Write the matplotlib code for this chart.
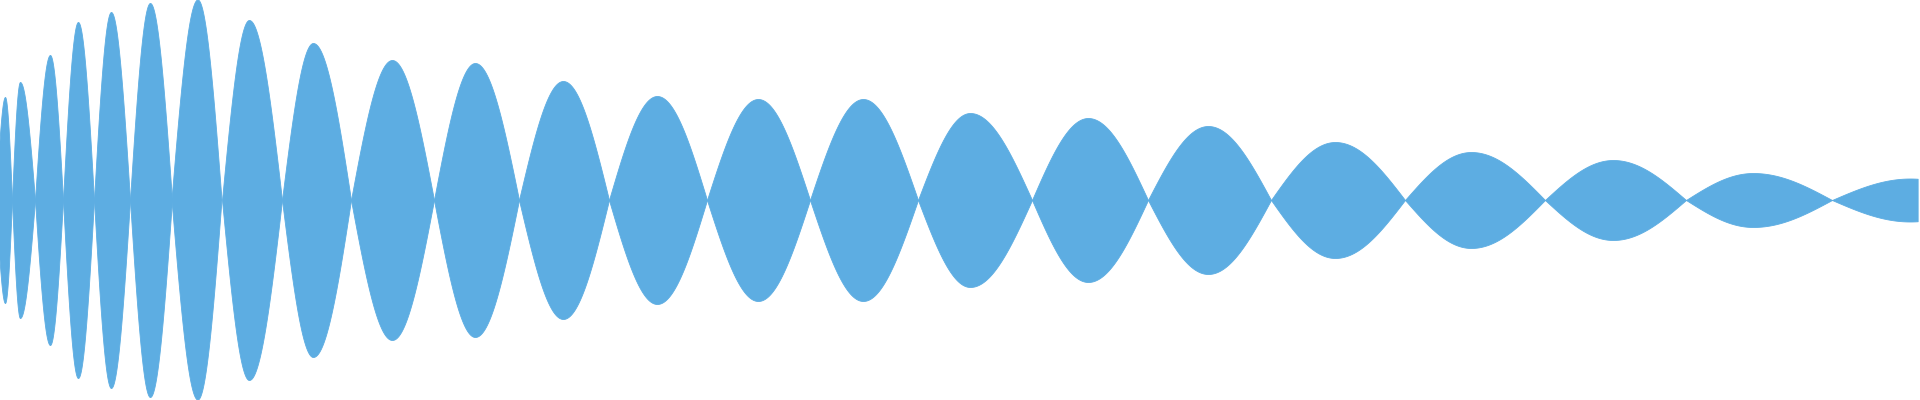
import numpy as np
import matplotlib
matplotlib.use("Agg")
import matplotlib.pyplot as plt

# zero crossings of the envelope (one more than lobes)
crossings = [-4, 12, 35, 63, 94, 130, 172, 222, 282, 351, 434, 519, 609,
             707, 810, 918, 1032, 1148, 1271, 1405, 1545, 1686, 1832, 1990]
# where each lobe peaks and how high it gets
peak_x = [5, 20, 50, 78, 111, 150, 198, 249, 313, 392, 475, 563, 657,
          758, 863, 970, 1088, 1208, 1335, 1471, 1613, 1753, 1910]
peak_amp = [103, 118, 145, 178, 188, 197, 200, 180, 157, 140, 137, 119, 104,
            101, 101, 87, 82, 74, 58, 48, 40, 27, 21.5]
x_end = 1918

color = "#5DADE2"

fig = plt.figure(figsize=(19.2, 4), dpi=100)
ax = fig.add_axes([0, 0, 1, 1])

for i in range(len(peak_amp)):
    a, b = crossings[i], crossings[i + 1]
    p, amp = peak_x[i], peak_amp[i]
    # rising half and falling half of the lobe
    xl = np.linspace(a, p, 200)
    xr = np.linspace(p, b, 200)
    yl = amp * np.sin(np.pi / 2 * (xl - a) / (p - a))
    yr = amp * np.sin(np.pi / 2 * (b - xr) / (b - p))
    xs = np.concatenate([xl, xr])
    ys = np.concatenate([yl, yr])
    keep = xs <= x_end
    ax.fill_between(xs[keep], -ys[keep], ys[keep], color=color, linewidth=0.6,
                    edgecolor=color)

ax.set_xlim(0, 1920)
ax.set_ylim(-200, 200)
ax.axis("off")
fig.savefig("out.png", dpi=100, facecolor="white")
